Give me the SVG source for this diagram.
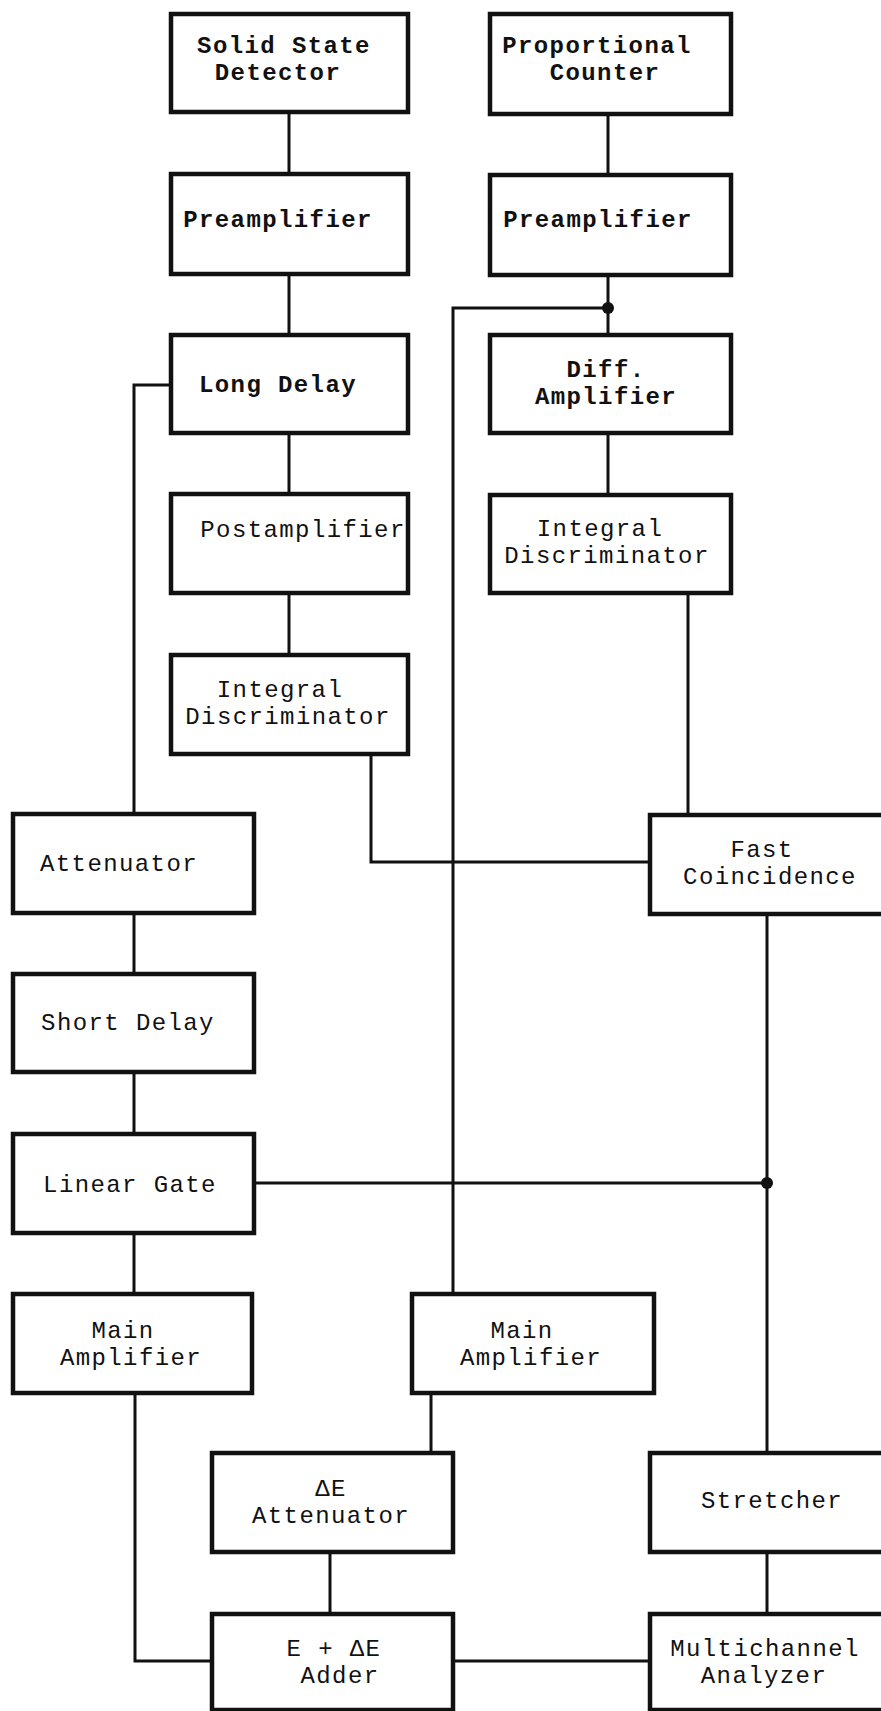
<svg xmlns="http://www.w3.org/2000/svg" width="881" height="1711" viewBox="0 0 881 1711">
<style>
.box{fill:#fff;stroke:#111;stroke-width:4.5}
.ln{fill:none;stroke:#111;stroke-width:3}
text{font-family:"Liberation Mono","DejaVu Sans Mono",monospace;font-size:24px;letter-spacing:1.4px;fill:#111;text-anchor:middle}
.b{font-weight:bold}
</style>
<rect width="881" height="1711" fill="#fff"/>
<g id="connectors">
<path class="ln" d="M289 113V173"/>
<path class="ln" d="M608 115V174"/>
<path class="ln" d="M289 275V333"/>
<path class="ln" d="M608 276V334"/>
<path class="ln" d="M608 308H453V1293"/>
<path class="ln" d="M171 385H134V813"/>
<path class="ln" d="M289 433V493"/>
<path class="ln" d="M289 593V654"/>
<path class="ln" d="M608 434V494"/>
<path class="ln" d="M371 755V862H650"/>
<path class="ln" d="M688 593V814"/>
<path class="ln" d="M134 913V973"/>
<path class="ln" d="M134 1072V1133"/>
<path class="ln" d="M254 1183H767"/>
<path class="ln" d="M767 914V1452"/>
<path class="ln" d="M134 1233V1293"/>
<path class="ln" d="M431 1393V1452"/>
<path class="ln" d="M330 1552V1613"/>
<path class="ln" d="M135 1393V1661H212"/>
<path class="ln" d="M453 1661H649"/>
<path class="ln" d="M767 1552V1613"/>
<circle cx="608" cy="308" r="6" fill="#111"/>
<circle cx="767" cy="1183" r="6" fill="#111"/>
</g>
<g id="solid-state-detector"><rect class="box" x="171" y="14" width="237" height="98"/><text class="b" x="284" y="53">Solid State</text><text class="b" x="278" y="80">Detector</text></g>
<g id="proportional-counter"><rect class="box" x="490" y="14" width="241" height="100"/><text class="b" x="597" y="53">Proportional</text><text class="b" x="605" y="80">Counter</text></g>
<g id="preamp-left"><rect class="box" x="171" y="174" width="237" height="100"/><text class="b" x="278" y="227">Preamplifier</text></g>
<g id="preamp-right"><rect class="box" x="490" y="175" width="241" height="100"/><text class="b" x="598" y="227">Preamplifier</text></g>
<g id="long-delay"><rect class="box" x="171" y="335" width="237" height="98"/><text class="b" x="278" y="392">Long Delay</text></g>
<g id="diff-amplifier"><rect class="box" x="490" y="335" width="241" height="98"/><text class="b" x="606" y="377">Diff.</text><text class="b" x="606" y="404">Amplifier</text></g>
<g id="postamplifier"><rect class="box" x="171" y="494" width="237" height="99"/><text x="303" y="537">Postamplifier</text></g>
<g id="integral-disc-right"><rect class="box" x="490" y="495" width="241" height="98"/><text x="600" y="536">Integral</text><text x="607" y="563">Discriminator</text></g>
<g id="integral-disc-left"><rect class="box" x="171" y="655" width="237" height="99"/><text x="280" y="697">Integral</text><text x="288" y="724">Discriminator</text></g>
<g id="attenuator"><rect class="box" x="13" y="814" width="241" height="99"/><text x="119" y="871">Attenuator</text></g>
<g id="fast-coincidence"><rect class="box" x="650" y="815" width="240" height="99"/><text x="762" y="857">Fast</text><text x="770" y="884">Coincidence</text></g>
<g id="short-delay"><rect class="box" x="13" y="974" width="241" height="98"/><text x="128" y="1030">Short Delay</text></g>
<g id="linear-gate"><rect class="box" x="13" y="1134" width="241" height="99"/><text x="130" y="1192">Linear Gate</text></g>
<g id="main-amp-left"><rect class="box" x="13" y="1294" width="239" height="99"/><text x="123" y="1338">Main</text><text x="131" y="1365">Amplifier</text></g>
<g id="main-amp-right"><rect class="box" x="412" y="1294" width="242" height="99"/><text x="522" y="1338">Main</text><text x="531" y="1365">Amplifier</text></g>
<g id="de-attenuator"><rect class="box" x="212" y="1453" width="241" height="99"/><text x="331" y="1496">ΔE</text><text x="331" y="1523">Attenuator</text></g>
<g id="stretcher"><rect class="box" x="650" y="1453" width="240" height="99"/><text x="772" y="1508">Stretcher</text></g>
<g id="adder"><rect class="box" x="212" y="1614" width="241" height="96"/><text x="334" y="1656">E + ΔE</text><text x="340" y="1683">Adder</text></g>
<g id="mca"><rect class="box" x="650" y="1614" width="240" height="96"/><text x="765" y="1656">Multichannel</text><text x="764" y="1683">Analyzer</text></g>
</svg>
